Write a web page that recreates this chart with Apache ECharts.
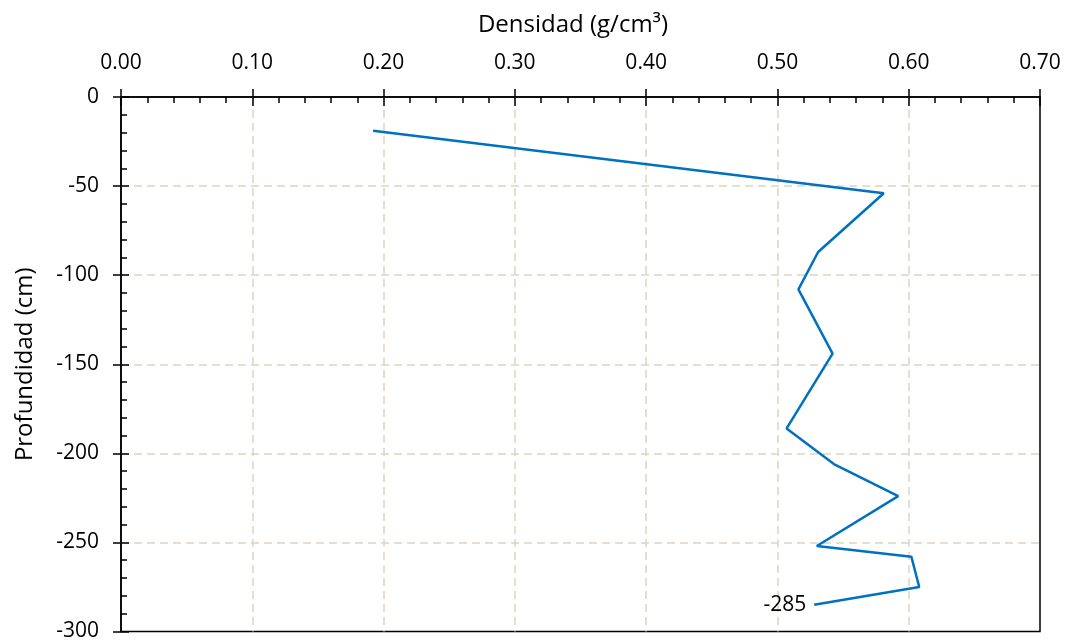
<!DOCTYPE html>
<html>
<head>
<meta charset="utf-8">
<script src="https://cdn.jsdelivr.net/npm/echarts@6/dist/echarts.min.js"></script>
<style>html,body{margin:0;padding:0;background:#fff;}#c{width:1070px;height:642px;}</style>
</head>
<body>
<div id="c"></div>
<script>
const densidad = [0.192, 0.581, 0.531, 0.516, 0.542, 0.507, 0.543, 0.592, 0.530, 0.602, 0.608, 0.528];
const profundidad = [-19, -54, -87, -108, -144, -186, -206, -224, -252, -258, -275, -285];
const xTitle = 'Densidad (g/cm³)';
const yTitle = 'Profundidad (cm)';
const lastLabel = '-285';

const FONT = 'Open Sans';
const data = densidad.map((d, i) => [d, profundidad[i]]);
const grid = '#dcd6c0';

const chart = echarts.init(document.getElementById('c'));
chart.setOption({
  animation: false,
  backgroundColor: '#fff',
  grid: { left: 121, top: 97, right: 30, bottom: 10, show: true, borderColor: '#000', borderWidth: 1.5, backgroundColor: 'transparent' },
  title: {
    text: xTitle, left: 568, top: 8, textAlign: 'center',
    textStyle: { fontFamily: FONT, fontSize: 24, fontWeight: 'normal', color: '#000' }
  },
  xAxis: [
    {
      type: 'value', position: 'top', min: 0, max: 0.7, interval: 0.1,
      axisLine: { show: true, onZero: false, lineStyle: { color: '#000', width: 1.5 } },
      axisTick: { show: true, inside: true, length: 9, lineStyle: { color: '#000', width: 1.5 } },
      minorTick: { show: true, splitNumber: 5, length: 6, lineStyle: { color: '#000', width: 1.5 } },
      axisLabel: { margin: 23, fontFamily: FONT, fontSize: 21, color: '#000', formatter: v => v.toFixed(2) },
      splitLine: { show: true, showMinLine: false, showMaxLine: false, lineStyle: { color: grid, width: 1.5, type: [8, 5] } }
    },
    {
      type: 'value', position: 'top', min: 0, max: 0.7, interval: 0.1,
      axisLine: { show: false },
      axisTick: { show: true, inside: false, length: 8, lineStyle: { color: '#000', width: 1.5 } },
      axisLabel: { show: false }, splitLine: { show: false }
    }
  ],
  yAxis: [
    {
      type: 'value', min: -300, max: 0, interval: 50,
      name: yTitle, nameLocation: 'middle', nameGap: 84, nameRotate: 90,
      nameTextStyle: { fontFamily: FONT, fontSize: 24, color: '#000' },
      axisLine: { show: true, onZero: false, lineStyle: { color: '#000', width: 1.5 } },
      axisTick: { show: true, inside: true, length: 8, lineStyle: { color: '#000', width: 1.5 } },
      minorTick: { show: true, splitNumber: 5, length: 6, lineStyle: { color: '#000', width: 1.5 } },
      axisLabel: { margin: 22, fontFamily: FONT, fontSize: 21, color: '#000' },
      splitLine: { show: true, showMinLine: false, showMaxLine: false, lineStyle: { color: grid, width: 1.5, type: [8, 5] } }
    },
    {
      type: 'value', position: 'left', min: -300, max: 0, interval: 50,
      axisLine: { show: false },
      axisTick: { show: true, inside: false, length: 8, lineStyle: { color: '#000', width: 1.5 } },
      axisLabel: { show: false }, splitLine: { show: false }
    }
  ],
  series: [{
    type: 'line', data: data, xAxisIndex: 0, yAxisIndex: 0,
    showSymbol: true, symbol: 'none',
    lineStyle: { color: '#0070C0', width: 2.5 },
    label: { show: false },
    markPoint: {
      symbol: 'circle', symbolSize: 0,
      data: [{ coord: data[data.length - 1], value: lastLabel }],
      label: { show: true, position: 'left', distance: 8, formatter: lastLabel, fontFamily: FONT, fontSize: 21, color: '#000' }
    }
  }]
});
</script>
</body>
</html>
